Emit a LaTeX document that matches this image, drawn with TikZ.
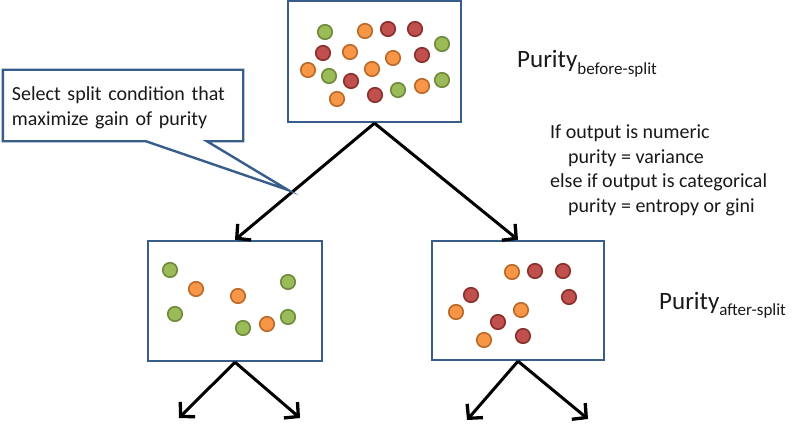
\documentclass[tikz,border=0pt]{standalone}
\usepackage{fontspec}
\setmainfont{Carlito}
\usetikzlibrary{arrows.meta,calc}
\definecolor{boxblue}{HTML}{385D8A}
\definecolor{gfill}{HTML}{9BBB59}\definecolor{gline}{HTML}{6F8A3A}
\definecolor{ofill}{HTML}{F79646}\definecolor{oline}{HTML}{B96A2A}
\definecolor{rfill}{HTML}{C0504D}\definecolor{rline}{HTML}{8A2E2C}
\tikzset{
  box/.style={draw=boxblue,line width=2.4pt,fill=white,inner sep=0pt},
  basedot/.style={circle,inner sep=0pt,minimum size=14.5pt,line width=1.6pt},
  gdot/.style={basedot,fill=gfill,draw=gline},
  odot/.style={basedot,fill=ofill,draw=oline},
  rdot/.style={basedot,fill=rfill,draw=rline},
  arr/.style={line width=3pt,-{Straight Barb[length=10pt,width=21pt,line width=3.3pt]}},
  txt/.style={anchor=base west,inner sep=0pt,font=\fontsize{20}{24}\selectfont,text=black!90}
}
\begin{document}
\begin{tikzpicture}[x=1pt,y=-1pt]
\useasboundingbox (0,0) rectangle (800,441);
\fill[white] (0,0) rectangle (800,441);
% boxes
\node[box,minimum width=173pt,minimum height=121pt] (top) at (374.5,61.5) {};
\node[box,minimum width=174pt,minimum height=120pt] (bl) at (235,301) {};
\node[box,minimum width=172pt,minimum height=119pt] (br) at (518,300.5) {};
% top dots
\node[gdot] (t1) at (325,32) {};
\node[odot] (t2) at (365,31) {};
\node[rdot] (t3) at (388,29) {};
\node[rdot] (t4) at (415,29) {};
\node[gdot] (t5) at (442,44) {};
\node[rdot] (t6) at (323,53) {};
\node[odot] (t7) at (350,52) {};
\node[odot] (t8) at (393,58) {};
\node[rdot] (t9) at (422,55) {};
\node[odot] (t10) at (308,70) {};
\node[gdot] (t11) at (329,76) {};
\node[odot] (t12) at (372,69) {};
\node[rdot] (t13) at (351,81) {};
\node[gdot] (t14) at (442,80) {};
\node[odot] (t15) at (337,99) {};
\node[rdot] (t16) at (375,95) {};
\node[gdot] (t17) at (398,90) {};
\node[odot] (t18) at (422,86) {};
% bottom-left dots
\node[gdot] (l1) at (170,270) {};
\node[odot] (l2) at (196,289) {};
\node[odot] (l3) at (238,296) {};
\node[gdot] (l4) at (288,282) {};
\node[gdot] (l5) at (175,314) {};
\node[gdot] (l6) at (243,328) {};
\node[odot] (l7) at (267,324) {};
\node[gdot] (l8) at (288,317) {};
% bottom-right dots
\node[odot] (r1) at (512,272) {};
\node[rdot] (r2) at (535,271) {};
\node[rdot] (r3) at (563,271) {};
\node[rdot] (r4) at (471,295) {};
\node[rdot] (r5) at (569,297) {};
\node[odot] (r6) at (456,312) {};
\node[odot] (r7) at (521,310) {};
\node[rdot] (r8) at (498,322) {};
\node[rdot] (r9) at (523,336) {};
\node[odot] (r10) at (484,340) {};
% arrows
\draw[arr] (top.south) -- (bl.north);
\draw[arr] (top.south) -- (br.north);
\coordinate (bl1) at (179,418);
\coordinate (bl2) at (300,418);
\coordinate (br1) at (467,420);
\coordinate (br2) at (588,419);
\draw[arr] (bl.south) -- (bl1);
\draw[arr] (bl.south) -- (bl2);
\draw[arr] (br.south) -- (br1);
\draw[arr] (br.south) -- (br2);
% callout
\node[minimum width=240pt,minimum height=71pt,inner sep=0pt] (co) at (123,105.5) {};
\coordinate (tip) at (288,190);
\draw[draw=boxblue,line width=2.4pt,fill=white,line join=miter]
  (co.north west) -- (co.north east) -- (co.south east) -- ($(co.south west)+(204,0)$) -- (tip)
  -- ($(co.south west)+(143,0)$) -- (co.south west) -- cycle;
\node[inner sep=0pt,text width=222pt,align=left,font=\fontsize{20}{25}\selectfont,text=black!90,yshift=-2pt]
  (cotext) at (co.center) {Select split condition that\\maximize gain of purity};
% labels
\node[txt,font=\fontsize{25}{28}\selectfont] (pb) at (517,68) {Purity\raisebox{-6.5pt}{\fontsize{17}{20}\selectfont before-split}};
\node[txt,font=\fontsize{25}{28}\selectfont] (pa) at (659,309) {Purity\raisebox{-6.5pt}{\fontsize{17}{20}\selectfont after-split}};
\node[txt] (c1) at (550,139) {If output is numeric};
\node[txt] (c2) at (568,163) {purity = variance};
\node[txt] (c3) at (550,187) {else if output is categorical};
\node[txt] (c4) at (568,212) {purity = entropy or gini};
\end{tikzpicture}
\end{document}
